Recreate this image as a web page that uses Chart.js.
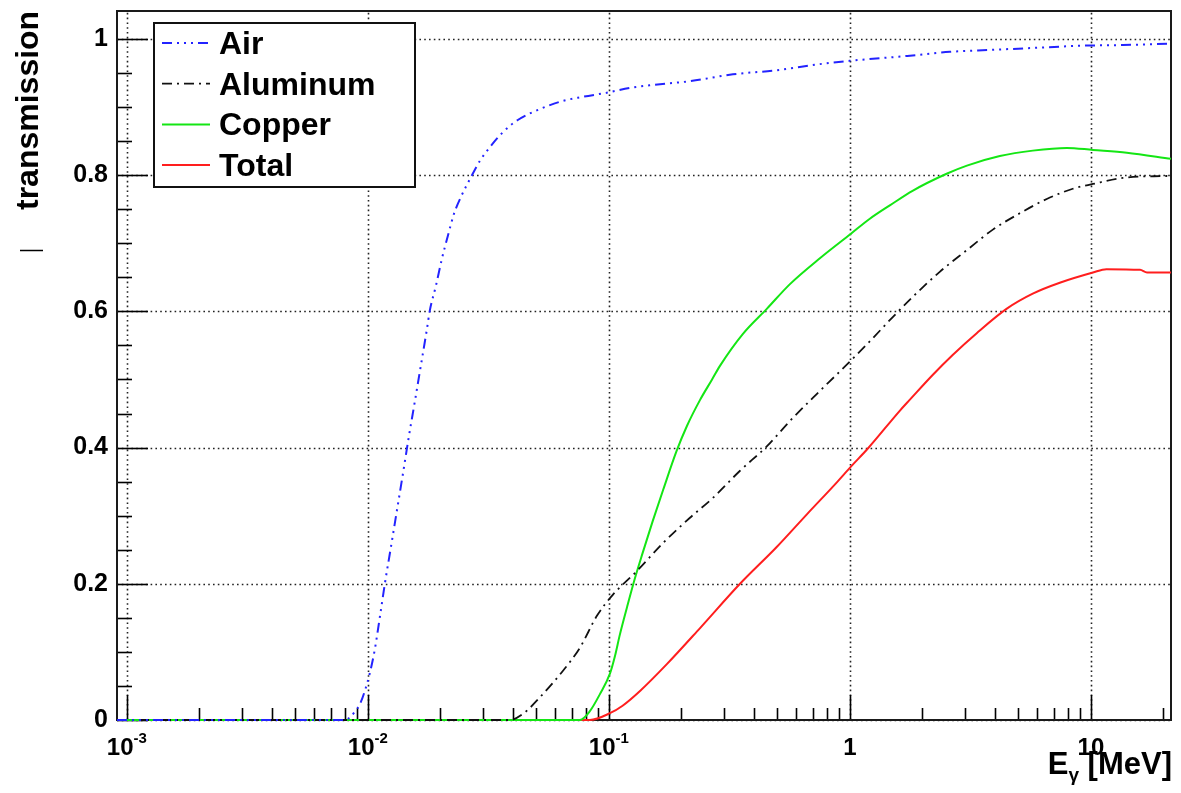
<!DOCTYPE html>
<html>
<head>
<meta charset="utf-8">
<script src="https://cdn.jsdelivr.net/npm/chart.js@4.4.1/dist/chart.umd.min.js"></script>
<style>
    html, body { margin: 0; padding: 0; background: #fff; }
    #wrap { width: 1181px; height: 793px; }
</style>
</head>
<body>
<div id="wrap"><canvas id="chart" width="1181" height="793"></canvas></div>
<script>
// photon energy [MeV] vs transmission
const airE = [0.00091, 0.00803, 0.00842, 0.00883, 0.00926, 0.00972, 0.01019, 0.01069, 0.01121, 0.01176, 0.01245, 0.01319, 0.01397, 0.01479, 0.01567, 0.0166, 0.01758, 0.01807, 0.01914, 0.02028, 0.02148, 0.02275, 0.02455, 0.0265, 0.02917, 0.03208, 0.03631, 0.04188, 0.05171, 0.06442, 0.078, 0.098, 0.122, 0.148, 0.217, 0.327, 0.497, 0.75, 1.01, 1.73, 2.6, 3.92, 5.97, 9.0, 13.6, 21.5];
const airT = [0, 0, 0.004, 0.012, 0.023, 0.043, 0.069, 0.104, 0.151, 0.200, 0.253, 0.307, 0.361, 0.416, 0.468, 0.521, 0.574, 0.601, 0.637, 0.677, 0.711, 0.743, 0.771, 0.794, 0.821, 0.841, 0.863, 0.881, 0.897, 0.909, 0.915, 0.921, 0.928, 0.932, 0.938, 0.948, 0.954, 0.963, 0.968, 0.975, 0.981, 0.984, 0.987, 0.990, 0.991, 0.993];

const aluE = [0.00091, 0.0388, 0.044, 0.0532, 0.0644, 0.0758, 0.0892, 0.104, 0.131, 0.168, 0.217, 0.270, 0.35, 0.453, 0.564, 0.73, 0.91, 1.18, 1.51, 1.82, 2.36, 3.06, 3.92, 5.07, 6.56, 8.41, 10.2, 13.6, 21.5];
const aluT = [0, 0, 0.009, 0.038, 0.072, 0.106, 0.153, 0.184, 0.219, 0.260, 0.297, 0.326, 0.366, 0.402, 0.439, 0.479, 0.512, 0.552, 0.592, 0.621, 0.658, 0.690, 0.720, 0.744, 0.765, 0.780, 0.787, 0.796, 0.799];

const cuE = [0.00091, 0.0758, 0.0834, 0.0918, 0.101, 0.106, 0.111, 0.119, 0.128, 0.138, 0.152, 0.168, 0.191, 0.211, 0.239, 0.268, 0.289, 0.36, 0.453, 0.564, 0.751, 1.01, 1.21, 1.47, 1.82, 2.52, 3.06, 4.19, 5.74, 7.94, 10.2, 14.1, 21.5];
const cuT = [0, 0, 0.013, 0.038, 0.068, 0.094, 0.125, 0.166, 0.207, 0.245, 0.292, 0.338, 0.395, 0.432, 0.470, 0.500, 0.520, 0.567, 0.604, 0.640, 0.678, 0.714, 0.736, 0.756, 0.777, 0.802, 0.814, 0.828, 0.836, 0.840, 0.837, 0.833, 0.824];

const totE = [0.00091, 0.0834, 0.101, 0.114, 0.135, 0.174, 0.239, 0.35, 0.497, 0.663, 0.883, 1.01, 1.19, 1.61, 1.77, 2.21, 2.67, 3.36, 4.48, 5.74, 7.43, 10.2, 11.6, 16, 17.1, 21.5];
const totT = [0, 0, 0.010, 0.021, 0.043, 0.082, 0.135, 0.200, 0.254, 0.302, 0.349, 0.372, 0.399, 0.454, 0.470, 0.507, 0.536, 0.568, 0.604, 0.626, 0.642, 0.657, 0.662, 0.661, 0.657, 0.657];

const seriesNames = ['Air', 'Aluminum', 'Copper', 'Total'];

// axes
const xMin = 0.00091, xMax = 21.5;
const yMin = 0, yMax = 1.041;
const yMajor = [0, 0.2, 0.4, 0.6, 0.8, 1];
const yMinorStep = 0.05;
const xDecades = [0.001, 0.01, 0.1, 1, 10];
const xBase = ['10', '10', '10', '1', '10'];
const xExp = ['-3', '-2', '-1', '', ''];

const FONT = "'Liberation Sans', Arial, Helvetica, sans-serif";

function toPoints(xs, ys) {
    return xs.map((x, i) => ({ x: x, y: ys[i] }));
}

const styles = [
    { color: '#2323ff', dash: [10, 5, 2, 5, 2, 5, 2, 5], width: 2 },
    { color: '#111111', dash: [10, 5, 2, 5], width: 1.8 },
    { color: '#14e614', dash: [], width: 2 },
    { color: '#ff1e1e', dash: [], width: 2 }
];
const dataE = [airE, aluE, cuE, totE];
const dataT = [airT, aluT, cuT, totT];

// ROOT-like frame, dotted grid, inward ticks, legend and labels
const rootStyle = {
    id: 'rootStyle',
    beforeDatasetsDraw(chart) {
        const { ctx, chartArea: a, scales: { x, y } } = chart;
        ctx.save();
        // dotted grid
        ctx.strokeStyle = '#222';
        ctx.lineWidth = 1.6;
        ctx.setLineDash([1.6, 3.2]);
        xDecades.forEach(v => {
            const px = Math.round(x.getPixelForValue(v)) + 0.5;
            ctx.beginPath(); ctx.moveTo(px, a.bottom); ctx.lineTo(px, a.top); ctx.stroke();
        });
        yMajor.forEach(v => {
            const py = Math.round(y.getPixelForValue(v)) + 0.5;
            ctx.beginPath(); ctx.moveTo(a.left, py); ctx.lineTo(a.right, py); ctx.stroke();
        });
        ctx.setLineDash([]);

        // ticks
        ctx.strokeStyle = '#000';
        ctx.lineWidth = 1.6;
        for (let v = yMin; v <= yMax + 1e-9; v += yMinorStep) {
            const major = Math.abs(v / 0.2 - Math.round(v / 0.2)) < 1e-6;
            const py = Math.round(y.getPixelForValue(v)) + 0.5;
            ctx.beginPath(); ctx.moveTo(a.left, py); ctx.lineTo(a.left + (major ? 31 : 15), py); ctx.stroke();
        }
        xDecades.forEach(d => {
            for (let k = 1; k <= 9; k++) {
                const v = d * k;
                if (v < xMin || v > xMax) continue;
                const px = Math.round(x.getPixelForValue(v)) + 0.5;
                ctx.beginPath(); ctx.moveTo(px, a.bottom); ctx.lineTo(px, a.bottom - (k === 1 ? 25 : 12)); ctx.stroke();
            }
        });

        // frame
        ctx.strokeStyle = '#1a1a1a';
        ctx.lineWidth = 2;
        ctx.strokeRect(a.left, a.top, a.right - a.left, a.bottom - a.top);
        ctx.restore();
    },
    afterDraw(chart) {
        const { ctx, scales: { x } } = chart;
        ctx.save();
        ctx.fillStyle = '#000';
        ctx.textBaseline = 'alphabetic';
        ctx.textAlign = 'left';

        // x tick labels with exponents
        xDecades.forEach((v, i) => {
            const px = x.getPixelForValue(v);
            ctx.font = 'bold 24px ' + FONT;
            const wb = ctx.measureText(xBase[i]).width;
            ctx.font = 'bold 15px ' + FONT;
            const we = xExp[i] ? ctx.measureText(xExp[i]).width : 0;
            const left = px - (wb + we) / 2;
            ctx.font = 'bold 24px ' + FONT;
            ctx.fillText(xBase[i], left, 755);
            if (xExp[i]) {
                ctx.font = 'bold 15px ' + FONT;
                ctx.fillText(xExp[i], left + wb, 743);
            }
        });

        // x title: E_gamma [MeV]
        ctx.font = 'bold 31px ' + FONT;
        const wE = ctx.measureText('E').width;
        const wRest = ctx.measureText(' [MeV]').width;
        ctx.font = 'bold 19px ' + FONT;
        const wG = ctx.measureText('γ').width;
        const tx = 1172 - (wE + wG + wRest);
        ctx.font = 'bold 31px ' + FONT;
        ctx.fillText('E', tx, 774);
        ctx.font = 'bold 19px ' + FONT;
        ctx.fillText('γ', tx + wE, 781);
        ctx.font = 'bold 31px ' + FONT;
        ctx.fillText(' [MeV]', tx + wE + wG, 774);

        // y title
        ctx.save();
        ctx.translate(38, 210);
        ctx.rotate(-Math.PI / 2);
        ctx.font = 'bold 32px ' + FONT;
        ctx.fillText('transmission', 0, 0);
        ctx.restore();
        ctx.strokeStyle = '#000';
        ctx.lineWidth = 1.5;
        ctx.beginPath(); ctx.moveTo(20, 250.5); ctx.lineTo(43, 250.5); ctx.stroke();

        // legend
        const bx = 154, by = 23, bw = 261, bh = 164;
        ctx.fillStyle = '#fff';
        ctx.fillRect(bx, by, bw, bh);
        ctx.strokeStyle = '#111';
        ctx.lineWidth = 2;
        ctx.strokeRect(bx, by, bw, bh);
        ctx.font = 'bold 32px ' + FONT;
        seriesNames.forEach((name, i) => {
            const cy = 43 + i * 40.7;
            const st = styles[i];
            ctx.strokeStyle = st.color;
            ctx.lineWidth = st.width;
            ctx.setLineDash(st.dash);
            ctx.beginPath(); ctx.moveTo(162, cy); ctx.lineTo(210, cy); ctx.stroke();
            ctx.setLineDash([]);
            ctx.fillStyle = '#000';
            ctx.fillText(name, 219, cy + 11);
        });
        ctx.restore();
    }
};

new Chart(document.getElementById('chart'), {
    type: 'line',
    data: {
        datasets: seriesNames.map((name, i) => ({
            label: name,
            data: toPoints(dataE[i], dataT[i]),
            borderColor: styles[i].color,
            borderWidth: styles[i].width,
            borderDash: styles[i].dash,
            pointRadius: 0,
            fill: false,
            clip: { left: 2, top: 2, right: 2, bottom: 3 },
            cubicInterpolationMode: 'monotone'
        }))
    },
    options: {
        responsive: false,
        animation: false,
        devicePixelRatio: 1,
        layout: { padding: { top: 11, right: 10, left: 0, bottom: 0 } },
        plugins: { legend: { display: false }, tooltip: { enabled: false } },
        scales: {
            x: {
                type: 'logarithmic',
                min: xMin,
                max: xMax,
                grid: { display: false, drawTicks: false },
                border: { display: false },
                ticks: { display: false },
                afterFit: (s) => { s.height = 73; s.paddingLeft = 0; s.paddingRight = 0; }
            },
            y: {
                min: yMin,
                max: yMax,
                grid: { display: false, drawTicks: false },
                border: { display: false },
                ticks: {
                    stepSize: 0.2,
                    includeBounds: false,
                    padding: 9,
                    color: '#000',
                    font: { family: FONT, size: 25, weight: 'bold' },
                    callback: (v) => String(+v.toFixed(1))
                },
                afterFit: (s) => { s.width = 117; s.paddingTop = 0; s.paddingBottom = 0; }
            }
        }
    },
    plugins: [rootStyle]
});
</script>
</body>
</html>
